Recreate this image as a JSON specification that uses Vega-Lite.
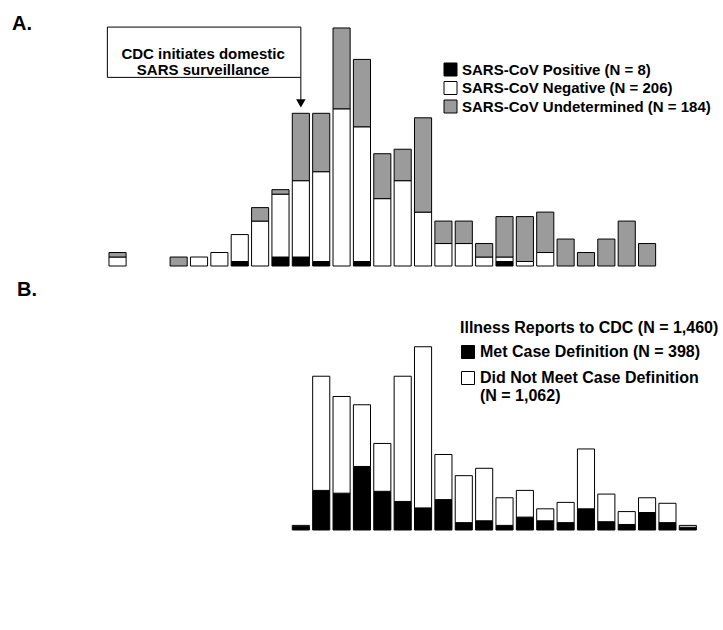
{
  "$schema": "https://vega.github.io/schema/vega-lite/v6.json",
  "padding": {"left": 12, "top": 14, "right": 0, "bottom": 0},
  "background": "#ffffff",
  "config": {
    "font": "Liberation Sans",
    "view": {"stroke": null},
    "axis": {
      "labelFont": "Liberation Sans", "labelFontWeight": "bold", "labelColor": "#000000",
      "titleFont": "Liberation Sans", "titleFontWeight": "bold", "titleColor": "#000000",
      "domainColor": "#000000", "tickColor": "#000000", "grid": false,
      "tickSize": 6, "labelPadding": 6, "labelOverlap": false, "labelFlush": false
    },
    "legend": {
      "labelFont": "Liberation Sans", "labelFontWeight": "bold", "labelColor": "#000000",
      "titleFont": "Liberation Sans", "titleFontWeight": "bold", "titleColor": "#000000",
      "labelLimit": 400, "titleLimit": 400, "symbolType": "square", "symbolSize": 169,
      "symbolStrokeColor": "#000000", "symbolStrokeWidth": 1, "symbolOpacity": 1
    },
    "concat": {"spacing": 13}
  },
  "resolve": {"scale": {"color": "independent"}, "legend": {"color": "independent"}},
  "datasets": {
    "cases": [
      {"week": "01/08-01/14", "status": "SARS-CoV Negative (N = 206)", "n": 2},
      {"week": "01/08-01/14", "status": "SARS-CoV Undetermined (N = 184)", "n": 1},
      {"week": "01/29-02/04", "status": "SARS-CoV Undetermined (N = 184)", "n": 2},
      {"week": "02/05-02/11", "status": "SARS-CoV Negative (N = 206)", "n": 2},
      {"week": "02/12-02/18", "status": "SARS-CoV Negative (N = 206)", "n": 3},
      {"week": "02/19-02/25", "status": "SARS-CoV Positive (N = 8)", "n": 1},
      {"week": "02/19-02/25", "status": "SARS-CoV Negative (N = 206)", "n": 6},
      {"week": "02/26-03/04", "status": "SARS-CoV Negative (N = 206)", "n": 10},
      {"week": "02/26-03/04", "status": "SARS-CoV Undetermined (N = 184)", "n": 3},
      {"week": "03/05-03/11", "status": "SARS-CoV Positive (N = 8)", "n": 2},
      {"week": "03/05-03/11", "status": "SARS-CoV Negative (N = 206)", "n": 14},
      {"week": "03/05-03/11", "status": "SARS-CoV Undetermined (N = 184)", "n": 1},
      {"week": "03/12-03/18", "status": "SARS-CoV Positive (N = 8)", "n": 2},
      {"week": "03/12-03/18", "status": "SARS-CoV Negative (N = 206)", "n": 17},
      {"week": "03/12-03/18", "status": "SARS-CoV Undetermined (N = 184)", "n": 15},
      {"week": "03/19-03/25", "status": "SARS-CoV Positive (N = 8)", "n": 1},
      {"week": "03/19-03/25", "status": "SARS-CoV Negative (N = 206)", "n": 20},
      {"week": "03/19-03/25", "status": "SARS-CoV Undetermined (N = 184)", "n": 13},
      {"week": "03/26-04/01", "status": "SARS-CoV Negative (N = 206)", "n": 35},
      {"week": "03/26-04/01", "status": "SARS-CoV Undetermined (N = 184)", "n": 18},
      {"week": "04/02-04/08", "status": "SARS-CoV Positive (N = 8)", "n": 1},
      {"week": "04/02-04/08", "status": "SARS-CoV Negative (N = 206)", "n": 30},
      {"week": "04/02-04/08", "status": "SARS-CoV Undetermined (N = 184)", "n": 15},
      {"week": "04/09-04/15", "status": "SARS-CoV Negative (N = 206)", "n": 15},
      {"week": "04/09-04/15", "status": "SARS-CoV Undetermined (N = 184)", "n": 10},
      {"week": "04/16-04/22", "status": "SARS-CoV Negative (N = 206)", "n": 19},
      {"week": "04/16-04/22", "status": "SARS-CoV Undetermined (N = 184)", "n": 7},
      {"week": "04/23-04/29", "status": "SARS-CoV Negative (N = 206)", "n": 12},
      {"week": "04/23-04/29", "status": "SARS-CoV Undetermined (N = 184)", "n": 21},
      {"week": "04/30-05/06", "status": "SARS-CoV Negative (N = 206)", "n": 5},
      {"week": "04/30-05/06", "status": "SARS-CoV Undetermined (N = 184)", "n": 5},
      {"week": "05/07-05/13", "status": "SARS-CoV Negative (N = 206)", "n": 5},
      {"week": "05/07-05/13", "status": "SARS-CoV Undetermined (N = 184)", "n": 5},
      {"week": "05/14-05/20", "status": "SARS-CoV Negative (N = 206)", "n": 2},
      {"week": "05/14-05/20", "status": "SARS-CoV Undetermined (N = 184)", "n": 3},
      {"week": "05/21-05/27", "status": "SARS-CoV Positive (N = 8)", "n": 1},
      {"week": "05/21-05/27", "status": "SARS-CoV Negative (N = 206)", "n": 1},
      {"week": "05/21-05/27", "status": "SARS-CoV Undetermined (N = 184)", "n": 9},
      {"week": "05/28-06/03", "status": "SARS-CoV Negative (N = 206)", "n": 1},
      {"week": "05/28-06/03", "status": "SARS-CoV Undetermined (N = 184)", "n": 10},
      {"week": "06/04-06/10", "status": "SARS-CoV Negative (N = 206)", "n": 3},
      {"week": "06/04-06/10", "status": "SARS-CoV Undetermined (N = 184)", "n": 9},
      {"week": "06/11-06/17", "status": "SARS-CoV Undetermined (N = 184)", "n": 6},
      {"week": "06/18-06/24", "status": "SARS-CoV Undetermined (N = 184)", "n": 3},
      {"week": "06/25-07/01", "status": "SARS-CoV Undetermined (N = 184)", "n": 6},
      {"week": "07/02-07/08", "status": "SARS-CoV Undetermined (N = 184)", "n": 10},
      {"week": "07/09-07/15", "status": "SARS-CoV Undetermined (N = 184)", "n": 5}
    ],
    "reports": [
      {"week": "03/12-03/18", "status": "Met Case Definition (N = 398)", "n": 4},
      {"week": "03/12-03/18", "status": "Did Not Meet Case Definition (N = 1,062)", "n": 1},
      {"week": "03/19-03/25", "status": "Met Case Definition (N = 398)", "n": 43},
      {"week": "03/19-03/25", "status": "Did Not Meet Case Definition (N = 1,062)", "n": 124},
      {"week": "03/26-04/01", "status": "Met Case Definition (N = 398)", "n": 40},
      {"week": "03/26-04/01", "status": "Did Not Meet Case Definition (N = 1,062)", "n": 105},
      {"week": "04/02-04/08", "status": "Met Case Definition (N = 398)", "n": 69},
      {"week": "04/02-04/08", "status": "Did Not Meet Case Definition (N = 1,062)", "n": 67},
      {"week": "04/09-04/15", "status": "Met Case Definition (N = 398)", "n": 42},
      {"week": "04/09-04/15", "status": "Did Not Meet Case Definition (N = 1,062)", "n": 52},
      {"week": "04/16-04/22", "status": "Met Case Definition (N = 398)", "n": 31},
      {"week": "04/16-04/22", "status": "Did Not Meet Case Definition (N = 1,062)", "n": 136},
      {"week": "04/23-04/29", "status": "Met Case Definition (N = 398)", "n": 24},
      {"week": "04/23-04/29", "status": "Did Not Meet Case Definition (N = 1,062)", "n": 175},
      {"week": "04/30-05/06", "status": "Met Case Definition (N = 398)", "n": 33},
      {"week": "04/30-05/06", "status": "Did Not Meet Case Definition (N = 1,062)", "n": 49},
      {"week": "05/07-05/13", "status": "Met Case Definition (N = 398)", "n": 8},
      {"week": "05/07-05/13", "status": "Did Not Meet Case Definition (N = 1,062)", "n": 51},
      {"week": "05/14-05/20", "status": "Met Case Definition (N = 398)", "n": 10},
      {"week": "05/14-05/20", "status": "Did Not Meet Case Definition (N = 1,062)", "n": 57},
      {"week": "05/21-05/27", "status": "Met Case Definition (N = 398)", "n": 5},
      {"week": "05/21-05/27", "status": "Did Not Meet Case Definition (N = 1,062)", "n": 30},
      {"week": "05/28-06/03", "status": "Met Case Definition (N = 398)", "n": 14},
      {"week": "05/28-06/03", "status": "Did Not Meet Case Definition (N = 1,062)", "n": 29},
      {"week": "06/04-06/10", "status": "Met Case Definition (N = 398)", "n": 10},
      {"week": "06/04-06/10", "status": "Did Not Meet Case Definition (N = 1,062)", "n": 13},
      {"week": "06/11-06/17", "status": "Met Case Definition (N = 398)", "n": 8},
      {"week": "06/11-06/17", "status": "Did Not Meet Case Definition (N = 1,062)", "n": 22},
      {"week": "06/18-06/24", "status": "Met Case Definition (N = 398)", "n": 23},
      {"week": "06/18-06/24", "status": "Did Not Meet Case Definition (N = 1,062)", "n": 65},
      {"week": "06/25-07/01", "status": "Met Case Definition (N = 398)", "n": 9},
      {"week": "06/25-07/01", "status": "Did Not Meet Case Definition (N = 1,062)", "n": 30},
      {"week": "07/02-07/08", "status": "Met Case Definition (N = 398)", "n": 6},
      {"week": "07/02-07/08", "status": "Did Not Meet Case Definition (N = 1,062)", "n": 14},
      {"week": "07/09-07/15", "status": "Met Case Definition (N = 398)", "n": 19},
      {"week": "07/09-07/15", "status": "Did Not Meet Case Definition (N = 1,062)", "n": 16},
      {"week": "07/16-07/22", "status": "Met Case Definition (N = 398)", "n": 8},
      {"week": "07/16-07/22", "status": "Did Not Meet Case Definition (N = 1,062)", "n": 21},
      {"week": "07/23-07/29", "status": "Met Case Definition (N = 398)", "n": 3},
      {"week": "07/23-07/29", "status": "Did Not Meet Case Definition (N = 1,062)", "n": 2}
    ],
    "note": [
      {"from": "01/08-01/14", "to": "03/12-03/18", "at": "02/05-02/11", "lo": 42, "hi": 53.2, "mid": 47.2, "text": "CDC initiates domestic\nSARS surveillance"}
    ],
    "arrow": [
      {"week": "03/12-03/18", "top": 42, "bottom": 37, "head": 36.2}
    ],
    "panelA": [{"panel": "A."}],
    "panelB": [{"panel": "B."}]
  },
  "vconcat": [
    {
      "width": 611,
      "height": 247,
      "layer": [
        {
          "data": {"name": "cases"},
          "transform": [
            {"calculate": "indexof(['SARS-CoV Positive (N = 8)','SARS-CoV Negative (N = 206)','SARS-CoV Undetermined (N = 184)'], datum.status)", "as": "k"}
          ],
          "mark": {"type": "bar", "stroke": "#000000", "strokeWidth": 1, "width": {"band": 0.84}},
          "encoding": {
            "x": {
              "field": "week", "type": "ordinal",
              "scale": {"domain": ["01/01-01/07","01/08-01/14","01/15-01/21","01/22-01/28","01/29-02/04","02/05-02/11","02/12-02/18","02/19-02/25","02/26-03/04","03/05-03/11","03/12-03/18","03/19-03/25","03/26-04/01","04/02-04/08","04/09-04/15","04/16-04/22","04/23-04/29","04/30-05/06","05/07-05/13","05/14-05/20","05/21-05/27","05/28-06/03","06/04-06/10","06/11-06/17","06/18-06/24","06/25-07/01","07/02-07/08","07/09-07/15","07/16-07/22","07/23-07/29"], "paddingInner": 0, "paddingOuter": 0},
              "axis": {"labels": false, "title": null, "bandPosition": 0}
            },
            "y": {
              "field": "n", "type": "quantitative", "stack": "zero",
              "scale": {"domain": [0, 55], "nice": false},
              "axis": {"values": [0,5,10,15,20,25,30,35,40,45,50,55], "labelOverlap": false, "title": "No. of Cases", "titleFontSize": 17, "labelFontSize": 11, "titlePadding": 12}
            },
            "color": {
              "field": "status", "type": "nominal",
              "scale": {"domain": ["SARS-CoV Positive (N = 8)","SARS-CoV Negative (N = 206)","SARS-CoV Undetermined (N = 184)"], "range": ["#000000","#ffffff","#9b9b9b"]},
              "legend": {"title": null, "orient": "none", "legendX": 356, "legendY": 43, "labelFontSize": 15, "rowPadding": 1.5, "labelOffset": 4}
            },
            "order": {"field": "k", "type": "quantitative", "sort": "ascending"}
          }
        },
        {
          "data": {"name": "note"},
          "mark": {"type": "rect", "fill": "#ffffff", "stroke": "#000000", "strokeWidth": 1},
          "encoding": {
            "x": {"field": "from", "type": "ordinal", "bandPosition": 0, "axis": null},
            "x2": {"field": "to", "bandPosition": 0.5},
            "y": {"field": "lo", "type": "quantitative", "axis": null},
            "y2": {"field": "hi"}
          }
        },
        {
          "data": {"name": "note"},
          "mark": {"type": "text", "fontSize": 15, "fontWeight": "bold", "lineBreak": "\n", "lineHeight": 16, "align": "center", "baseline": "middle", "color": "#000000"},
          "encoding": {
            "x": {"field": "at", "type": "ordinal", "bandPosition": 0.7, "axis": null},
            "y": {"field": "mid", "type": "quantitative", "axis": null},
            "text": {"field": "text"}
          }
        },
        {
          "data": {"name": "arrow"},
          "mark": {"type": "rule", "color": "#000000", "strokeWidth": 1},
          "encoding": {
            "x": {"field": "week", "type": "ordinal", "bandPosition": 0.5, "axis": null},
            "y": {"field": "top", "type": "quantitative", "axis": null},
            "y2": {"field": "bottom"}
          }
        },
        {
          "data": {"name": "arrow"},
          "mark": {"type": "point", "shape": "triangle-down", "filled": true, "color": "#000000", "size": 90, "opacity": 1},
          "encoding": {
            "x": {"field": "week", "type": "ordinal", "bandPosition": 0.5, "axis": null},
            "y": {"field": "head", "type": "quantitative", "axis": null}
          }
        },
        {
          "data": {"name": "panelA"},
          "mark": {"type": "text", "fontSize": 20, "fontWeight": "bold", "align": "left", "baseline": "alphabetic", "dx": -75, "dy": 11, "color": "#000000"},
          "encoding": {
            "x": {"datum": "01/01-01/07", "type": "ordinal", "bandPosition": 0, "axis": null},
            "y": {"datum": 55, "type": "quantitative", "axis": null},
            "text": {"field": "panel"}
          }
        }
      ]
    },
    {
      "width": 611,
      "height": 221,
      "layer": [
        {
          "data": {"name": "reports"},
          "transform": [
            {"calculate": "indexof(['Met Case Definition (N = 398)','Did Not Meet Case Definition (N = 1,062)'], datum.status)", "as": "k"}
          ],
          "mark": {"type": "bar", "stroke": "#000000", "strokeWidth": 1, "width": {"band": 0.84}},
          "encoding": {
            "x": {
              "field": "week", "type": "ordinal",
              "scale": {"domain": ["01/01-01/07","01/08-01/14","01/15-01/21","01/22-01/28","01/29-02/04","02/05-02/11","02/12-02/18","02/19-02/25","02/26-03/04","03/05-03/11","03/12-03/18","03/19-03/25","03/26-04/01","04/02-04/08","04/09-04/15","04/16-04/22","04/23-04/29","04/30-05/06","05/07-05/13","05/14-05/20","05/21-05/27","05/28-06/03","06/04-06/10","06/11-06/17","06/18-06/24","06/25-07/01","07/02-07/08","07/09-07/15","07/16-07/22","07/23-07/29"], "paddingInner": 0, "paddingOuter": 0},
              "axis": {"bandPosition": 0, "labelOffset": 8, "labelAngle": -58, "labelAlign": "right", "labelBaseline": "middle", "labelFontSize": 10, "labelOverlap": false, "labelPadding": 9, "title": "Week 2003 (Wednesday-Tuesday)", "titleFontSize": 18, "titlePadding": 10}
            },
            "y": {
              "field": "n", "type": "quantitative", "stack": "zero",
              "scale": {"domain": [0, 240], "nice": false},
              "axis": {"values": [0,40,80,120,160,200,240], "labelOverlap": false, "title": "No. of Reports", "titleFontSize": 17, "labelFontSize": 12, "titlePadding": 12}
            },
            "color": {
              "field": "status", "type": "nominal",
              "scale": {"domain": ["Met Case Definition (N = 398)","Did Not Meet Case Definition (N = 1,062)"], "range": ["#000000","#ffffff"]},
              "legend": {"title": "Illness Reports to CDC (N = 1,460)", "orient": "none", "legendX": 373, "legendY": 11, "titleFontSize": 16, "labelFontSize": 16, "rowPadding": 8, "titlePadding": 8, "labelOffset": 4,
                "labelExpr": "datum.label == 'Did Not Meet Case Definition (N = 1,062)' ? ['Did Not Meet Case Definition', '(N = 1,062)'] : datum.label"}
            },
            "order": {"field": "k", "type": "quantitative", "sort": "ascending"}
          }
        },
        {
          "data": {"name": "panelB"},
          "mark": {"type": "text", "fontSize": 20, "fontWeight": "bold", "align": "left", "baseline": "alphabetic", "dx": -70, "dy": -13, "color": "#000000"},
          "encoding": {
            "x": {"datum": "01/01-01/07", "type": "ordinal", "bandPosition": 0, "axis": null},
            "y": {"datum": 240, "type": "quantitative", "axis": null},
            "text": {"field": "panel"}
          }
        }
      ]
    }
  ]
}
